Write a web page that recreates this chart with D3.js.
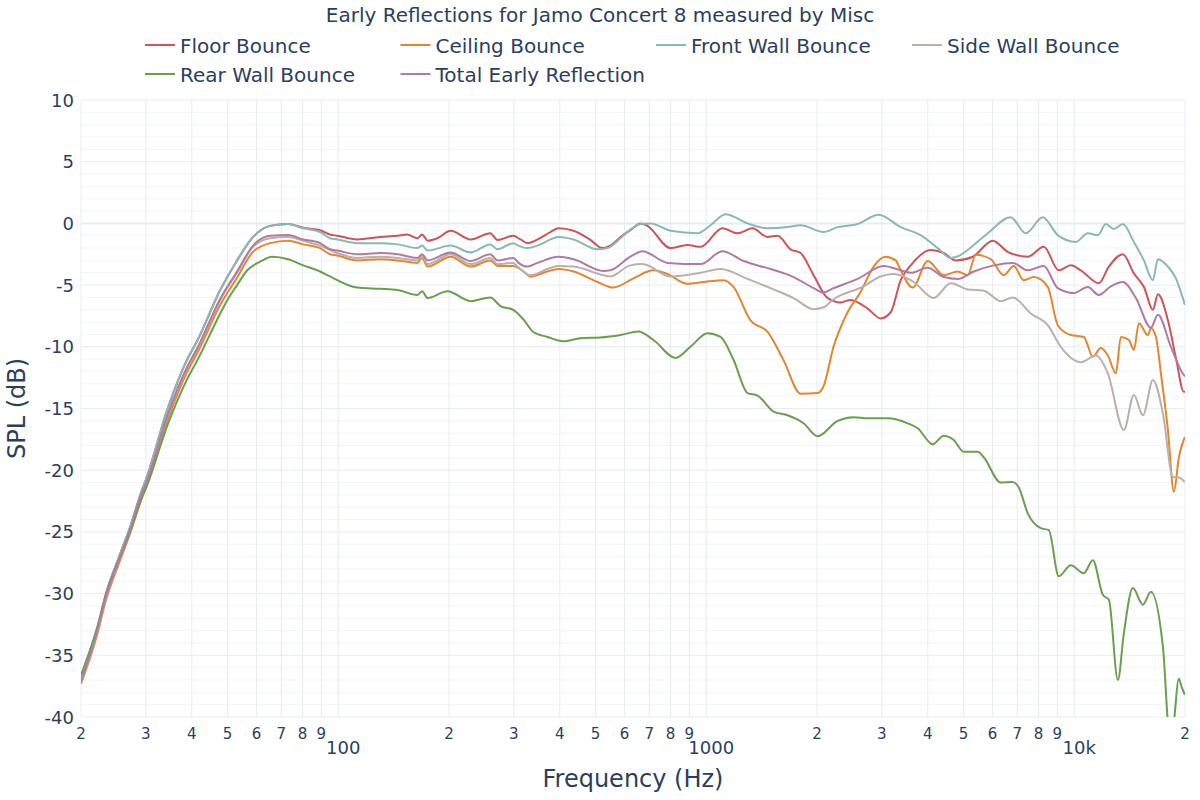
<!DOCTYPE html>
<html>
<head>
<meta charset="utf-8">
<script src="https://cdn.jsdelivr.net/npm/d3@7"></script>
<style>
  html, body { margin: 0; padding: 0; background: #fff; }
  svg { display: block; font-family: "DejaVu Sans", Verdana, sans-serif; }
</style>
</head>
<body>
<svg id="chart" width="1200" height="800"></svg>
<script>
// ---------------- data (frequency Hz, SPL dB) ----------------
const floorBounce = [[20,-37.0],[22,-33.2],[22.5,-32.1],[23.4,-30.0],[25.4,-27.0],[27.2,-24.6],[29.3,-21.6],[30,-20.8],[34.4,-15.0],[38.9,-11.0],[41.4,-9.5],[47.8,-5.4],[53.1,-3.0],[58.7,-1.1],[65.3,-0.2],[73.1,-0.05],[80.3,-0.35],[89.3,-0.55],[95,-0.9],[99.4,-1.0],[112.6,-1.3],[130,-1.1],[145,-1.0],[154,-0.9],[164,-1.2],[169,-0.9],[175,-1.4],[186,-1.2],[202,-0.6],[229,-1.3],[259,-0.8],[271,-1.35],[299,-1.0],[313,-1.3],[327,-1.6],[348,-1.3],[377,-0.7],[397,-0.4],[436,-0.6],[485,-1.35],[522,-2.0],[549,-1.8],[585,-1.1],[622,-0.55],[663,0.0],[692,-0.2],[800,-2.0],[889,-1.75],[965,-1.9],[1107,-0.4],[1216,-0.8],[1336,-0.4],[1468,-1.1],[1563,-1.0],[1695,-2.1],[1805,-2.4],[1958,-4.2],[2138,-6.05],[2318,-6.4],[2468,-6.2],[2746,-6.9],[2978,-7.7],[3172,-7.2],[3376,-4.6],[3596,-3.4],[4074,-2.15],[4420,-2.4],[4764,-3.0],[5300,-2.7],[6007,-1.4],[6596,-2.3],[7477,-2.7],[8265,-1.9],[9078,-3.8],[9788,-3.4],[10420,-3.8],[11665,-4.85],[12420,-3.5],[13558,-2.5],[14526,-4.05],[15465,-5.15],[16362,-7.0],[16882,-5.75],[17972,-7.85],[18893,-10.9],[19862,-13.65],[20000,-13.6]];

const ceilingBounce = [[20,-37.3],[22,-33.6],[23.4,-30.5],[25.4,-27.5],[27.2,-25.1],[29.3,-22.2],[30,-21.4],[34.4,-15.9],[38.9,-12.0],[41.4,-10.5],[47.8,-6.6],[53.1,-4.4],[58.7,-2.3],[65.3,-1.6],[73.1,-1.4],[80.3,-1.7],[89.3,-2.0],[95,-2.5],[99.4,-2.6],[112.6,-3.0],[130,-2.9],[145,-3.0],[164,-3.2],[169,-2.8],[175,-3.5],[202,-2.7],[229,-3.5],[259,-3.0],[271,-3.45],[299,-3.45],[319,-3.9],[333,-4.3],[370,-3.9],[397,-3.7],[436,-3.9],[506,-4.75],[560,-5.2],[634,-4.45],[719,-3.8],[785,-4.1],[889,-4.9],[983,-4.75],[1114,-4.6],[1186,-5.15],[1319,-7.85],[1468,-8.8],[1623,-11.1],[1805,-13.8],[2007,-13.75],[2084,-13.2],[2218,-10.0],[2422,-7.2],[2628,-5.55],[2850,-3.5],[3073,-2.7],[3272,-3.0],[3376,-3.8],[3640,-5.2],[3999,-3.05],[4420,-4.2],[4824,-3.9],[5136,-4.2],[5400,-2.55],[5932,-2.9],[6434,-4.2],[6850,-3.45],[7293,-4.6],[7763,-4.35],[8475,-5.15],[9022,-8.25],[9788,-9.05],[10617,-9.2],[11235,-10.8],[11811,-10.1],[12342,-10.7],[12976,-12.15],[13389,-9.2],[14078,-9.45],[14526,-10.25],[14988,-8.1],[15857,-9.05],[16158,-8.5],[16671,-9.2],[17202,-12.15],[17972,-16.75],[18658,-21.75],[19249,-18.95],[19986,-17.3]];

const frontWallBounce = [[20,-37.0],[22,-33.2],[22.5,-32.1],[23.4,-30.0],[25.4,-27.0],[27.2,-24.6],[29.3,-21.6],[30,-20.8],[34.4,-15.0],[38.9,-11.0],[41.4,-9.5],[47.8,-5.4],[53.1,-3.0],[58.7,-1.1],[65.3,-0.2],[73.1,-0.05],[80.3,-0.4],[89.3,-0.7],[95,-1.2],[99.4,-1.3],[112.6,-1.6],[130,-1.6],[145,-1.7],[164,-2.0],[169,-1.8],[175,-2.2],[202,-1.8],[229,-2.35],[259,-1.7],[271,-2.1],[299,-1.6],[309,-1.8],[327,-2.0],[348,-1.8],[397,-1.1],[436,-1.3],[506,-2.1],[539,-2.0],[585,-1.2],[622,-0.5],[663,-0.05],[706,0.0],[800,-0.6],[947,-0.8],[1027,-0.15],[1128,0.75],[1295,0.0],[1468,-0.4],[1664,-0.3],[1805,-0.15],[2084,-0.7],[2275,-0.3],[2579,-0.05],[2941,0.7],[3376,-0.3],[3826,-0.95],[4257,-2.0],[4617,-2.8],[4916,-2.55],[5136,-2.15],[5822,-0.8],[6721,0.5],[7384,-0.8],[8214,0.5],[9022,-0.95],[10098,-1.5],[10887,-0.8],[11592,-0.95],[12187,-0.05],[12814,-0.45],[13558,-0.05],[14526,-1.5],[15465,-3.0],[16362,-4.6],[16882,-2.9],[17972,-3.5],[18893,-4.45],[19986,-6.6]];

const sideWallBounce = [[20,-37.1],[22,-33.4],[23.4,-30.3],[25.4,-27.3],[27.2,-24.9],[29.3,-21.9],[30,-21.1],[34.4,-15.6],[38.9,-11.7],[41.4,-10.2],[47.8,-6.2],[53.1,-4.0],[58.7,-1.9],[65.3,-1.2],[73.1,-1.1],[80.3,-1.4],[89.3,-1.8],[99.4,-2.4],[112.6,-2.8],[130,-2.7],[145,-2.8],[164,-3.0],[169,-2.6],[175,-3.3],[202,-2.5],[229,-3.3],[259,-2.8],[271,-3.3],[299,-3.2],[307,-3.5],[333,-4.2],[370,-3.7],[397,-3.45],[436,-3.5],[526,-4.2],[549,-4.3],[622,-3.4],[671,-3.3],[800,-4.3],[965,-4.0],[1094,-3.7],[1295,-4.5],[1524,-5.35],[1728,-6.05],[1958,-6.95],[2084,-6.8],[2218,-6.15],[2678,-5.1],[2978,-4.3],[3233,-4.1],[3663,-4.75],[4152,-6.05],[4617,-4.85],[5136,-5.35],[5678,-5.45],[6314,-6.3],[6808,-6.0],[7618,-7.3],[8475,-8.25],[9193,-10.0],[10420,-11.25],[11448,-10.7],[12342,-12.15],[13643,-16.75],[14526,-13.9],[15368,-15.55],[16362,-12.7],[17417,-15.4],[18542,-20.55],[19249,-20.6],[19986,-20.95]];

const rearWallBounce = [[20,-36.6],[22,-33.0],[23.4,-30.0],[25.4,-27.2],[27.2,-25.0],[29.3,-22.2],[30,-21.5],[34.4,-16.3],[38.9,-12.6],[41.4,-11.1],[47.8,-7.3],[50,-6.2],[53.1,-5.0],[56.6,-3.8],[61.4,-3.1],[66.1,-2.7],[73.1,-2.9],[80.3,-3.4],[89.3,-3.9],[95,-4.3],[99.4,-4.6],[112.6,-5.2],[130,-5.3],[145,-5.4],[164,-5.8],[169,-5.5],[175,-6.05],[198,-5.5],[229,-6.3],[259,-6.0],[276,-6.7],[299,-7.0],[319,-7.8],[339,-8.8],[370,-9.2],[409,-9.55],[455,-9.3],[516,-9.25],[585,-9.05],[654,-8.75],[719,-9.45],[825,-10.9],[906,-10.0],[1008,-8.9],[1094,-9.2],[1186,-11.05],[1295,-13.75],[1379,-13.95],[1524,-15.25],[1664,-15.55],[1839,-16.2],[2007,-17.25],[2275,-16.0],[2515,-15.7],[2746,-15.8],[3112,-15.8],[3528,-16.2],[3756,-16.6],[4126,-17.9],[4420,-17.2],[4705,-17.55],[5009,-18.5],[5469,-18.5],[5678,-18.95],[6314,-21.0],[6808,-20.95],[7069,-21.4],[7477,-23.5],[8112,-24.7],[8528,-24.85],[9078,-28.6],[9788,-27.7],[10617,-28.35],[11235,-27.3],[11960,-30.1],[12420,-30.5],[13140,-37.0],[13643,-33.2],[14435,-29.55],[15368,-30.9],[16158,-29.85],[17417,-34.3],[17972,-40.5],[18300,-43.0],[18658,-40.5],[19249,-36.9],[19600,-37.6],[19986,-38.2]];

const totalEarlyReflection = [[20,-37.1],[22,-33.3],[23.4,-30.2],[25.4,-27.2],[27.2,-24.8],[29.3,-21.8],[30,-21.1],[34.4,-15.5],[38.9,-11.6],[41.4,-10.1],[47.8,-6.1],[53.1,-3.9],[58.7,-1.8],[65.3,-1.0],[73.1,-0.95],[80.3,-1.3],[89.3,-1.6],[95,-2.1],[99.4,-2.2],[112.6,-2.5],[130,-2.4],[145,-2.5],[164,-2.8],[169,-2.5],[175,-3.0],[202,-2.35],[229,-3.05],[259,-2.5],[271,-3.0],[299,-2.8],[309,-3.2],[327,-3.5],[348,-3.2],[397,-2.7],[436,-2.9],[526,-3.85],[549,-3.8],[622,-2.7],[671,-2.25],[785,-3.2],[965,-3.3],[1107,-2.25],[1263,-3.05],[1496,-3.7],[1728,-4.35],[1958,-5.25],[2084,-5.6],[2218,-5.25],[2579,-4.5],[3034,-3.45],[3376,-3.8],[3596,-4.0],[3999,-3.6],[4420,-4.35],[4824,-4.5],[5333,-3.9],[6045,-3.4],[6808,-3.2],[7477,-3.8],[8265,-3.45],[9022,-5.25],[9972,-5.65],[10887,-5.15],[11665,-5.8],[12577,-5.1],[13558,-4.75],[14710,-6.05],[16158,-8.45],[16882,-7.4],[18312,-10.0],[19862,-12.3],[20000,-12.4]];

const seriesNames = ["Floor Bounce", "Ceiling Bounce", "Front Wall Bounce", "Side Wall Bounce", "Rear Wall Bounce", "Total Early Reflection"];
const seriesData = [floorBounce, ceilingBounce, frontWallBounce, sideWallBounce, rearWallBounce, totalEarlyReflection];
const seriesColors = ["#cf5456", "#e3862f", "#88b9b4", "#bcb0ab", "#69a04f", "#b07aa4"];

const xMinorTicks = [20,30,40,50,60,70,80,90,200,300,400,500,600,700,800,900,2000,3000,4000,5000,6000,7000,8000,9000,20000];
const xMinorLabels = ["2","3","4","5","6","7","8","9","2","3","4","5","6","7","8","9","2","3","4","5","6","7","8","9","2"];
const xMajorTicks = [100, 1000, 10000];
const xMajorLabels = ["100", "1000", "10k"];
const yTicks = [-40,-35,-30,-25,-20,-15,-10,-5,0,5,10];
const yTickLabels = ["-40","-35","-30","-25","-20","-15","-10","-5","0","5","10"];

const titleText = "Early Reflections for Jamo Concert 8 measured by Misc";
const xTitle = "Frequency (Hz)";
const yTitle = "SPL (dB)";

// ---------------- layout ----------------
const textColor = "#2a3f5f";
const gridMajor = "#e6ecf4";
const gridMinor = "#f1f4f9";
const L = 81, R = 1185, T = 100, B = 717;

const svg = d3.select("#chart");
const x = d3.scaleLog().domain([20, 20000]).range([L, R]);
const y = d3.scaleLinear().domain([-40, 10]).range([B, T]);

// minor y gridlines every 1 dB
const yMinor = d3.range(-40, 11, 1).filter(v => v % 5 !== 0);
svg.append("g").selectAll("line").data(yMinor).join("line")
  .attr("x1", L).attr("x2", R)
  .attr("y1", d => y(d)).attr("y2", d => y(d))
  .attr("stroke", gridMinor).attr("stroke-width", 1);

// major y gridlines
svg.append("g").selectAll("line").data(yTicks).join("line")
  .attr("x1", L).attr("x2", R)
  .attr("y1", d => y(d)).attr("y2", d => y(d))
  .attr("stroke", gridMajor).attr("stroke-width", d => d === 0 ? 2 : 1);

// x gridlines
svg.append("g").selectAll("line").data(xMinorTicks.concat(xMajorTicks)).join("line")
  .attr("x1", d => x(d)).attr("x2", d => x(d))
  .attr("y1", T).attr("y2", B)
  .attr("stroke", gridMajor).attr("stroke-width", 1);

// clip
svg.append("defs").append("clipPath").attr("id", "plotclip")
  .append("rect").attr("x", L).attr("y", T).attr("width", R - L).attr("height", B - T);

// lines
const line = d3.line().x(d => x(d[0])).y(d => y(d[1])).curve(d3.curveMonotoneX);
const gLines = svg.append("g").attr("clip-path", "url(#plotclip)");
seriesData.forEach((s, i) => {
  gLines.append("path").datum(s)
    .attr("d", line)
    .attr("fill", "none")
    .attr("stroke", seriesColors[i])
    .attr("stroke-width", 2)
    .attr("stroke-linejoin", "round");
});

// x tick labels
svg.append("g").selectAll("text").data(xMinorTicks).join("text")
  .attr("x", d => x(d)).attr("y", 739)
  .attr("text-anchor", "middle")
  .attr("font-size", 15).attr("fill", textColor)
  .text((d, i) => xMinorLabels[i]);
svg.append("g").selectAll("text").data(xMajorTicks).join("text")
  .attr("x", d => x(d) + 5).attr("y", 754)
  .attr("text-anchor", "middle")
  .attr("font-size", 18).attr("fill", textColor)
  .text((d, i) => xMajorLabels[i]);

// y tick labels
svg.append("g").selectAll("text").data(yTicks).join("text")
  .attr("x", 74).attr("y", d => y(d) + 6.5)
  .attr("text-anchor", "end")
  .attr("font-size", 18).attr("fill", textColor)
  .text((d, i) => yTickLabels[i]);

// axis titles
svg.append("text")
  .attr("x", (L + R) / 2).attr("y", 787)
  .attr("text-anchor", "middle")
  .attr("font-size", 24).attr("fill", textColor)
  .text(xTitle);
svg.append("text")
  .attr("transform", `translate(25,${(T + B) / 2}) rotate(-90)`)
  .attr("text-anchor", "middle")
  .attr("font-size", 24).attr("fill", textColor)
  .text(yTitle);

// title
svg.append("text")
  .attr("x", 600).attr("y", 22)
  .attr("text-anchor", "middle")
  .attr("font-size", 20).attr("fill", textColor)
  .text(titleText);

// legend
const legX = [145, 400.5, 656, 912];
const legY = [45, 74];
const leg = svg.append("g");
seriesNames.forEach((name, i) => {
  const col = i % 4, row = Math.floor(i / 4);
  const gx = legX[col], gy = legY[row];
  leg.append("line")
    .attr("x1", gx).attr("x2", gx + 30)
    .attr("y1", gy).attr("y2", gy)
    .attr("stroke", seriesColors[i]).attr("stroke-width", 2);
  leg.append("text")
    .attr("x", gx + 35).attr("y", gy + 7.5)
    .attr("font-size", 20).attr("fill", textColor)
    .text(name);
});
</script>
</body>
</html>
